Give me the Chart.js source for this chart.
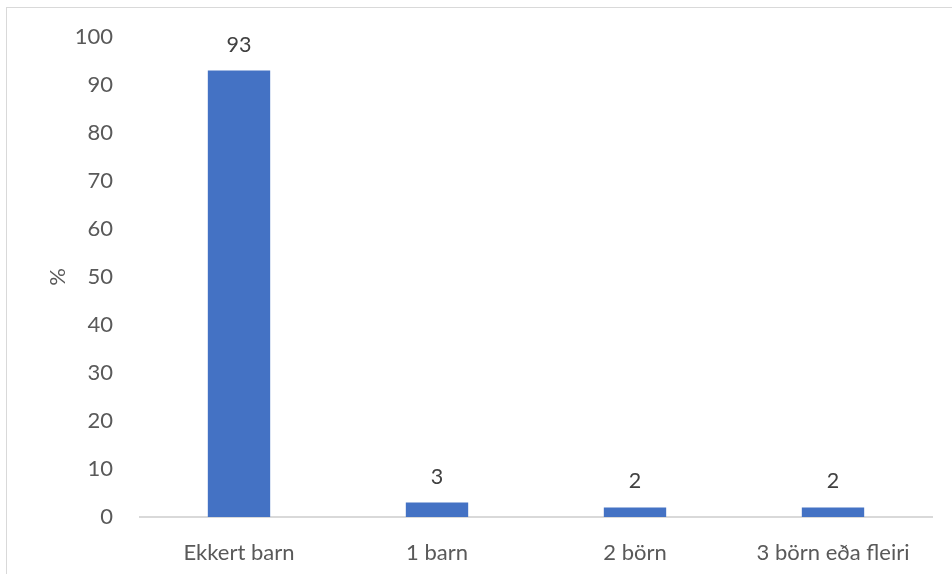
<!DOCTYPE html>
<html>
<head>
<meta charset="utf-8">
<script src="https://cdn.jsdelivr.net/npm/chart.js@4"></script>
<style>
  html, body { margin: 0; padding: 0; background: #fff; overflow: hidden; }
  #frame { position: absolute; left: 6px; top: 7px; width: 980px; height: 600px; border: 1px solid #d9d9d9; }
  #wrap { position: absolute; left: 0; top: 0; width: 952px; height: 574px; }
</style>
</head>
<body>
<div id="frame"></div>
<div id="wrap"><canvas id="chart"></canvas></div>
<script>
const categories = ['Ekkert barn', '1 barn', '2 börn', '3 börn eða fleiri'];
const percentValues = [93, 3, 2, 2];
const yTicks = [0, 10, 20, 30, 40, 50, 60, 70, 80, 90, 100];

const FONT = 'Lato, "Open Sans", sans-serif';

// value labels above each bar
const barValueLabels = {
    id: 'barValueLabels',
    afterDatasetsDraw(chart) {
        const ctx = chart.ctx;
        const meta = chart.getDatasetMeta(0);
        ctx.save();
        ctx.font = '21.5px ' + FONT;
        ctx.fillStyle = '#404040';
        ctx.textAlign = 'center';
        ctx.textBaseline = 'middle';
        meta.data.forEach((bar, i) => {
            ctx.fillText(String(percentValues[i]), bar.x, bar.y - 26);
        });
        ctx.restore();
    }
};

const ctx = document.getElementById('chart').getContext('2d');
const chart = new Chart(ctx, {
    type: 'bar',
    data: {
        labels: categories,
        datasets: [{
            data: percentValues,
            backgroundColor: '#4472c4',
            categoryPercentage: 1,
            barPercentage: 0.315
        }]
    },
    options: {
        responsive: true,
        maintainAspectRatio: false,
        animation: false,
        layout: { padding: { top: 37, right: 20, left: 0, bottom: 0 } },
        plugins: {
            legend: { display: false },
            tooltip: { enabled: false }
        },
        scales: {
            x: {
                grid: { display: false },
                border: { color: '#d9d9d9', width: 2 },
                ticks: { color: '#595959', font: { family: FONT, size: 22 }, padding: 15 },
                afterFit(scale) { scale.height = 57; }
            },
            y: {
                min: 0,
                max: 100,
                afterBuildTicks(scale) { scale.ticks = yTicks.map(v => ({ value: v })); },
                grid: { display: false },
                border: { display: false },
                ticks: { color: '#595959', font: { family: FONT, size: 22 }, padding: 19 },
                title: {
                    display: true,
                    text: '%',
                    color: '#595959',
                    font: { family: FONT, size: 22 },
                    padding: { top: 45, bottom: 0 }
                },
                afterFit(scale) { scale.width = 140; }
            }
        }
    },
    plugins: [barValueLabels]
});
</script>
</body>
</html>
